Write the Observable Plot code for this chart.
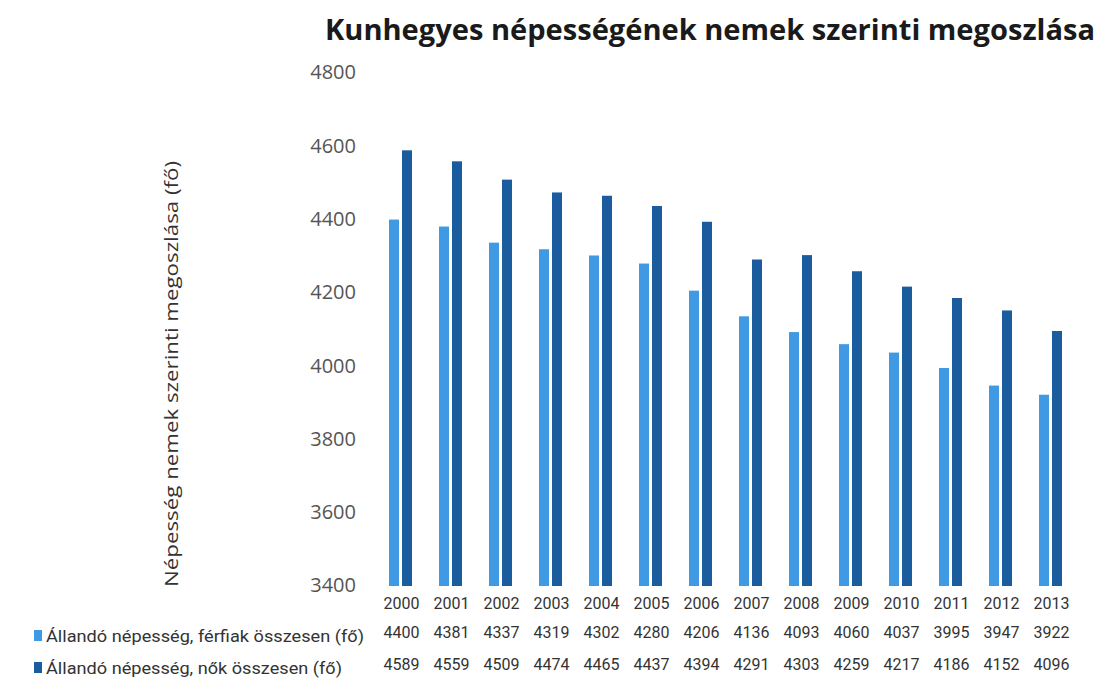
<!DOCTYPE html>
<html>
<head>
<meta charset="utf-8">
<script src="https://cdn.jsdelivr.net/npm/d3@7"></script>
<script src="https://cdn.jsdelivr.net/npm/@observablehq/plot@0.6"></script>
<style>
  body { margin: 0; background: #fff; }
  #chart { width: 1101px; height: 680px; }
  svg { overflow: visible; }
</style>
</head>
<body>
<div id="chart"></div>
<script>
const title = "Kunhegyes népességének nemek szerinti megoszlása";
const yLabel = "Népesség nemek szerinti megoszlása (fő)";
const years = ["2000","2001","2002","2003","2004","2005","2006","2007","2008","2009","2010","2011","2012","2013"];
const seriesNames = ["Állandó népesség, férfiak összesen (fő)", "Állandó népesség, nők összesen (fő)"];
const men = [4400, 4381, 4337, 4319, 4302, 4280, 4206, 4136, 4093, 4060, 4037, 3995, 3947, 3922];
const women = [4589, 4559, 4509, 4474, 4465, 4437, 4394, 4291, 4303, 4259, 4217, 4186, 4152, 4096];
const yTicks = [3400, 3600, 3800, 4000, 4200, 4400, 4600, 4800];
const colors = ["#3f9ae3", "#1b5c9f"];

const data = [];
years.forEach((y, i) => {
  data.push({year: y, series: seriesNames[0], value: men[i]});
  data.push({year: y, series: seriesNames[1], value: women[i]});
});
const rowMen = years.map((y, i) => ({year: y, value: men[i]}));
const rowWomen = years.map((y, i) => ({year: y, value: women[i]}));

const font = "'Liberation Sans Narrow', 'Roboto', sans-serif";

const plot = Plot.plot({
  width: 1101,
  height: 680,
  marginTop: 73,
  marginBottom: 94,
  marginLeft: 370,
  marginRight: 20,
  style: {fontFamily: font, fontSize: "16px", color: "#404040", background: "#fff"},
  fx: {domain: years, padding: 0, label: null, tickSize: 0, tickPadding: 11, axis: "bottom"},
  x: {domain: seriesNames, paddingInner: 0.21, paddingOuter: 0.92, axis: null},
  y: {domain: [3400, 4800], ticks: yTicks, label: null, tickSize: 0, tickPadding: 20, tickFormat: d => String(d)},
  color: {domain: seriesNames, range: colors},
  marks: [
    Plot.barY(data, {fx: "year", x: "series", y1: 3400, y2: "value", fill: "series"}),
    Plot.text(rowMen, {fx: "year", text: d => String(d.value), frameAnchor: "bottom", dy: 51, fill: "#333", fontSize: 16}),
    Plot.text(rowWomen, {fx: "year", text: d => String(d.value), frameAnchor: "bottom", dy: 83, fill: "#333", fontSize: 16})
  ]
});

document.getElementById("chart").appendChild(plot);
const svg = d3.select(plot);
svg.select("[aria-label='y-axis tick label']").attr("font-size", 20).attr("fill", "#555")
  .attr("font-family", "'Open Sans', sans-serif")
  .attr("transform", "translate(-20,0)");
svg.select("[aria-label='fx-axis tick label']").attr("font-size", 16).attr("fill", "#333");

svg.append("text")
  .attr("x", 710).attr("y", 40)
  .attr("text-anchor", "middle")
  .attr("font-family", "'Open Sans', sans-serif")
  .attr("font-weight", "bold")
  .attr("font-size", 28)
  .attr("fill", "#1a1a1a")
  .attr("textLength", 770)
  .attr("lengthAdjust", "spacingAndGlyphs")
  .text(title);

svg.append("text")
  .attr("transform", "translate(178,374) rotate(-90)")
  .attr("text-anchor", "middle")
  .attr("font-family", "'Open Sans', sans-serif")
  .attr("font-size", 19)
  .attr("fill", "#333")
  .attr("textLength", 426)
  .attr("lengthAdjust", "spacingAndGlyphs")
  .text(yLabel);

[[636, 0], [668, 1]].forEach(([yy, k]) => {
  svg.append("rect").attr("x", 34).attr("y", yy - 6).attr("width", 8).attr("height", 11).attr("fill", colors[k]);
  svg.append("text")
    .attr("x", 46).attr("y", yy + 6)
    .attr("text-anchor", "start")
    .attr("font-family", font)
    .attr("font-size", 17)
    .attr("fill", "#333")
    .attr("textLength", k === 0 ? 318 : 296)
    .attr("lengthAdjust", "spacingAndGlyphs")
    .text(seriesNames[k]);
});
</script>
</body>
</html>
